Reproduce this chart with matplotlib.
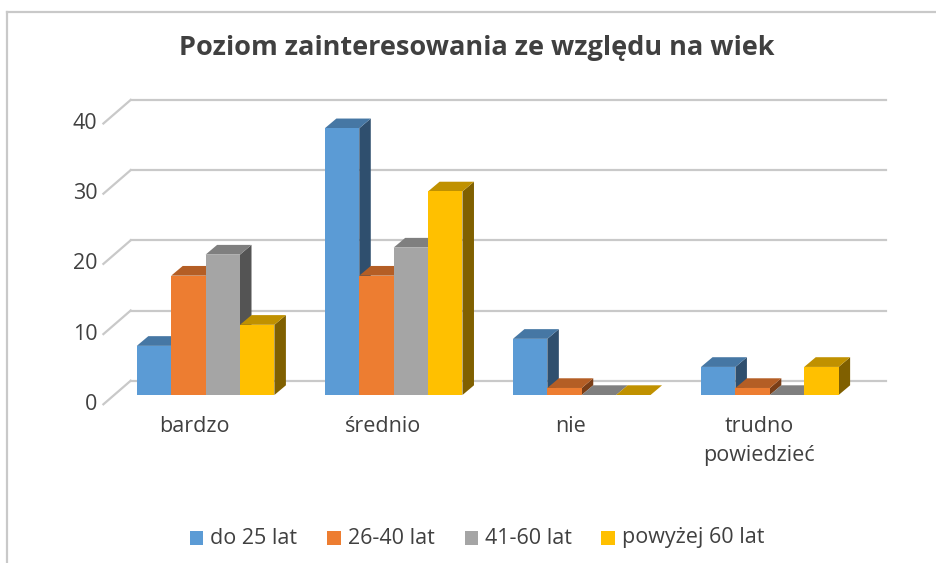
import matplotlib
matplotlib.use('Agg')
import matplotlib.pyplot as plt
from matplotlib.patches import Polygon, Rectangle
from matplotlib.lines import Line2D

plt.rcParams['font.family'] = ['Open Sans', 'DejaVu Sans']

# data
categories = ['bardzo', 'średnio', 'nie', 'trudno\npowiedzieć']
series = ['do 25 lat', '26-40 lat', '41-60 lat', 'powyżej 60 lat']
values = [
    [7, 38, 8, 4],     # do 25 lat
    [17, 17, 1, 1],    # 26-40 lat
    [20, 21, 0, 0],    # 41-60 lat
    [10, 29, 0, 4],    # powyżej 60 lat
]
y_ticks = [0, 10, 20, 30, 40]

front_colors = ['#5B9BD5', '#ED7D31', '#A5A5A5', '#FFC000']
top_colors = ['#4677A4', '#B45E25', '#7F7F7F', '#C09100']
side_colors = ['#2F4F6E', '#7A3E17', '#545454', '#806000']
grid_color = '#C9C9C9'
text_color = '#404040'

W, H = 936, 563
fig = plt.figure(figsize=(W / 100, H / 100), dpi=100)

# the axes is the front plane of the bars (pixel box from the reference)
ax_l, ax_r = 114.2, 869.5
ax_t, ax_b = 114.2, 395.0
ax = fig.add_axes([ax_l / W, 1 - ax_b / H, (ax_r - ax_l) / W, (ax_b - ax_t) / H])
xmin, xmax = -0.486, 3.53
ax.set_xlim(xmin, xmax)
ax.set_ylim(0, 40)
ax.axis('off')

sx = (ax_r - ax_l) / (xmax - xmin)   # px per category unit
sy = (ax_b - ax_t) / 40.0            # px per value unit


def px(dx, dy):
    return dx / sx, dy / sy


wall_dx, wall_dy = px(16.5, 14.3)    # back wall relative to bar front
front_dx, front_dy = px(10.8, 9.3)   # axis front plane relative to bar front
bar_dx, bar_dy = px(11.5, 9.7)       # depth of a bar
bw = 34.4 / sx

# back wall grid + diagonal floor/side lines
for v in y_ticks:
    ax.add_line(Line2D([xmin + wall_dx, xmax + wall_dx], [v + wall_dy, v + wall_dy],
                       color=grid_color, lw=1.6, zorder=1, clip_on=False))
    ax.add_line(Line2D([xmin + wall_dx, xmin - front_dx], [v + wall_dy, v - front_dy],
                       color=grid_color, lw=1.6, zorder=1, clip_on=False))
    ax.text(xmin - front_dx - 6 / sx, v - front_dy, str(v), ha='right', va='center',
            fontsize=15.5, color=text_color)

# 3D-looking bars
for j, name in enumerate(series):
    xs = [i - 2 * bw + j * bw for i in range(len(categories))]
    z = 2 + 3 * j
    for x0, h in zip(xs, values[j]):
        x1 = x0 + bw
        side = [(x1, 0), (x1 + bar_dx, bar_dy), (x1 + bar_dx, h + bar_dy), (x1, h)]
        top = [(x0, h), (x1, h), (x1 + bar_dx, h + bar_dy), (x0 + bar_dx, h + bar_dy)]
        ax.add_patch(Polygon(side, closed=True, facecolor=side_colors[j], lw=0,
                             zorder=z, clip_on=False))
        ax.add_patch(Polygon(top, closed=True, facecolor=top_colors[j], lw=0,
                             zorder=z + 1, clip_on=False))
    ax.bar(xs, values[j], bw, align='edge', color=front_colors[j], lw=0,
           zorder=z + 2, clip_on=False)

# category labels on the front plane
for i, cat in enumerate(categories):
    ax.text(i - front_dx, -21 / sy, cat, ha='center', va='top', fontsize=15.5,
            color=text_color, linespacing=1.5)

# title
fig.text(477 / W, 1 - 48 / H, 'Poziom zainteresowania ze względu na wiek',
         ha='center', va='center', fontsize=19.5, fontweight='bold', color=text_color)

# legend
leg_x = [189.6, 327.0, 464.6, 601.0]
leg_y = 538
for j, name in enumerate(series):
    fig.patches.append(Rectangle((leg_x[j] / W, 1 - (leg_y + 7) / H), 13.7 / W, 14 / H,
                                 facecolor=front_colors[j], lw=0,
                                 transform=fig.transFigure))
    fig.text((leg_x[j] + 20.5) / W, 1 - leg_y / H, name, ha='left', va='center',
             fontsize=15.5, color=text_color)

# chart border (top and left edges visible)
fig.add_artist(Line2D([7.5 / W, 1], [1 - 12 / H, 1 - 12 / H], color=grid_color, lw=1.6,
                      transform=fig.transFigure))
fig.add_artist(Line2D([7.5 / W, 7.5 / W], [1 - 12 / H, 0], color=grid_color, lw=1.6,
                      transform=fig.transFigure))

fig.savefig('out.png', dpi=100, facecolor='white')
